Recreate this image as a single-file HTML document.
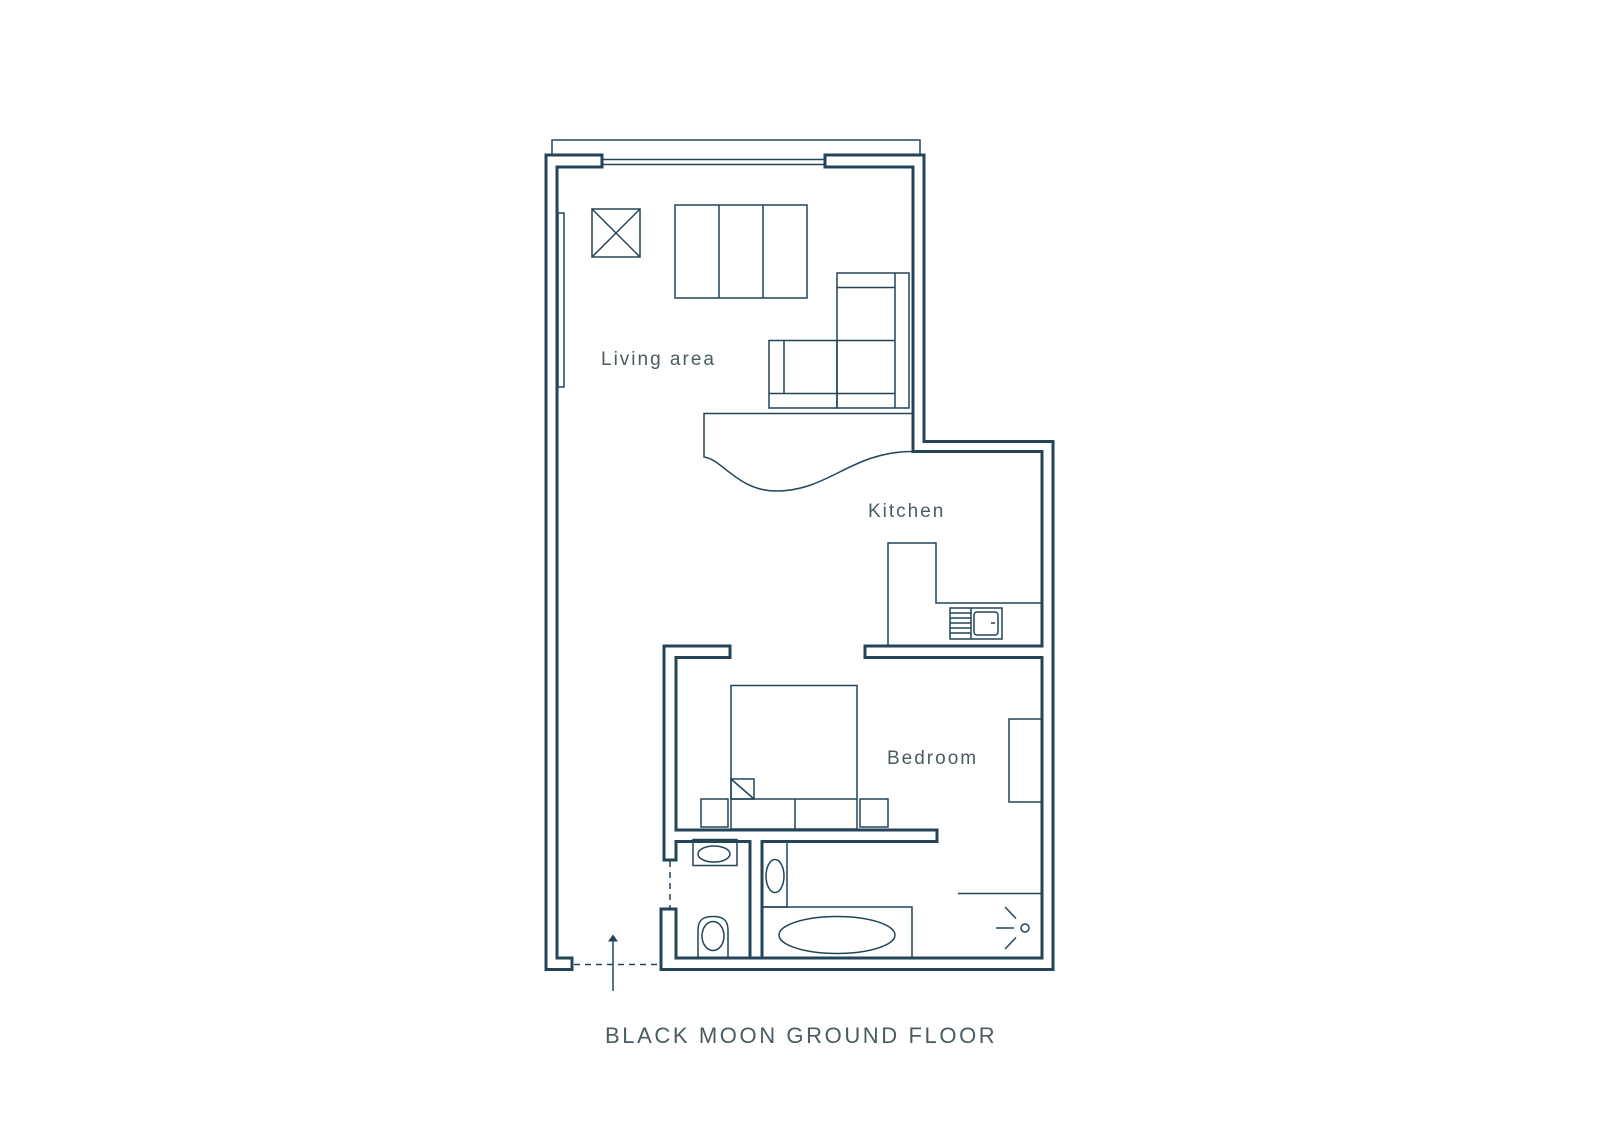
<!DOCTYPE html>
<html><head><meta charset="utf-8"><style>
html,body{margin:0;padding:0;background:#fff;}
svg{display:block}
text{font-family:"Liberation Sans",sans-serif;fill:#4a5b62;}
</style></head><body>
<svg width="1600" height="1132" viewBox="0 0 1600 1132" xmlns="http://www.w3.org/2000/svg">
<g fill="none" stroke="#234459" stroke-width="1.5">
  <polyline points="552,155 552,140 920,140 920,155"/>
  <line x1="602" y1="159.5" x2="825" y2="159.5"/>
  <line x1="602" y1="164.5" x2="825" y2="164.5"/>
  <rect x="558" y="213" width="6" height="174"/>
  <rect x="592" y="209" width="48" height="48"/>
  <line x1="592" y1="209" x2="640" y2="257"/>
  <line x1="640" y1="209" x2="592" y2="257"/>
  <rect x="675" y="205" width="132" height="93"/>
  <line x1="719" y1="205" x2="719" y2="298"/>
  <line x1="763" y1="205" x2="763" y2="298"/>
  <rect x="837" y="273" width="72" height="135"/>
  <line x1="895" y1="273" x2="895" y2="408"/>
  <line x1="837" y1="287.5" x2="895" y2="287.5"/>
  <line x1="837" y1="340.5" x2="895" y2="340.5"/>
  <line x1="769" y1="393.5" x2="895" y2="393.5"/>
  <rect x="769" y="340.5" width="68" height="67.5"/>
  <line x1="784" y1="340.5" x2="784" y2="393.5"/>
  <path d="M913,413.5 L704,413.5 L704,457 C722,459 738,491 776,491 C830,491 850,451.5 913,451.5"/>
  <polyline points="888,645 888,543 936,543 936,603 1042,603"/>
  <rect x="950" y="608" width="52" height="31"/>
  <line x1="971" y1="608" x2="971" y2="639"/>
  <line x1="950" y1="613" x2="971" y2="613"/>
  <line x1="950" y1="618" x2="971" y2="618"/>
  <line x1="950" y1="623" x2="971" y2="623"/>
  <line x1="950" y1="628" x2="971" y2="628"/>
  <line x1="950" y1="633" x2="971" y2="633"/>
  <rect x="974" y="612" width="24" height="23" rx="3"/>
  <line x1="991" y1="623" x2="995" y2="623"/>
  <rect x="731" y="685.5" width="126" height="143.5"/>
  <line x1="731" y1="799" x2="857" y2="799"/>
  <line x1="795" y1="799" x2="795" y2="829"/>
  <rect x="731" y="779" width="23" height="20"/>
  <line x1="731" y1="779" x2="754" y2="799"/>
  <rect x="701" y="799" width="27" height="28"/>
  <rect x="860" y="799" width="28" height="28"/>
  <rect x="1009" y="719" width="33" height="83"/>
  <rect x="693" y="839.5" width="44" height="26"/>
  <ellipse cx="714" cy="854" rx="16" ry="8"/>
  <path d="M698,958 L698,930 C698,918.5 705,916.5 713,916.5 C721,916.5 728,918.5 728,930 L728,958"/>
  <ellipse cx="713" cy="936" rx="11" ry="14.5"/>
  <rect x="762" y="841.5" width="25" height="65.5"/>
  <ellipse cx="775" cy="876" rx="9" ry="16.5"/>
  <rect x="762" y="907" width="150" height="51"/>
  <ellipse cx="837" cy="935" rx="58" ry="18.5"/>
  <line x1="958" y1="893.5" x2="1042" y2="893.5"/>
  <circle cx="1025" cy="928" r="4"/>
  <line x1="996" y1="928" x2="1014" y2="928"/>
  <line x1="1005" y1="907" x2="1016" y2="918.5"/>
  <line x1="1005" y1="949" x2="1016" y2="937.5"/>
  <line x1="670" y1="861" x2="670" y2="908" stroke-dasharray="6,5"/>
  <line x1="574" y1="964.5" x2="660" y2="964.5" stroke-dasharray="6,5"/>
  <line x1="613" y1="941" x2="613" y2="991"/>
</g>
<polygon points="608,941.5 618,941.5 613,934.5" fill="#234459"/>
<g fill="none" stroke="#234459" stroke-width="3" stroke-linejoin="miter">
  <polygon points="602,155 546,155 546,969.5 572,969.5 572,958 557,958 557,167 602,167"/>
  <polygon points="825,155 924,155 924,441.5 1053,441.5 1053,969.5 661,969.5 661,909 676,909 676,958 1042,958 1042,657.5 865,657.5 865,646 1042,646 1042,451.5 913,451.5 913,167 825,167"/>
  <polygon points="664,860 664,646 730,646 730,657.5 676,657.5 676,830 937,830 937,841.5 762,841.5 762,958 750,958 750,841.5 676,841.5 676,860"/>
</g>
<text x="601" y="365" font-size="19" letter-spacing="2">Living area</text>
<text x="868" y="517" font-size="19" letter-spacing="2">Kitchen</text>
<text x="887" y="764" font-size="19" letter-spacing="2">Bedroom</text>
<text x="605" y="1043" font-size="22" letter-spacing="2.6">BLACK MOON GROUND FLOOR</text>
</svg>
</body></html>
